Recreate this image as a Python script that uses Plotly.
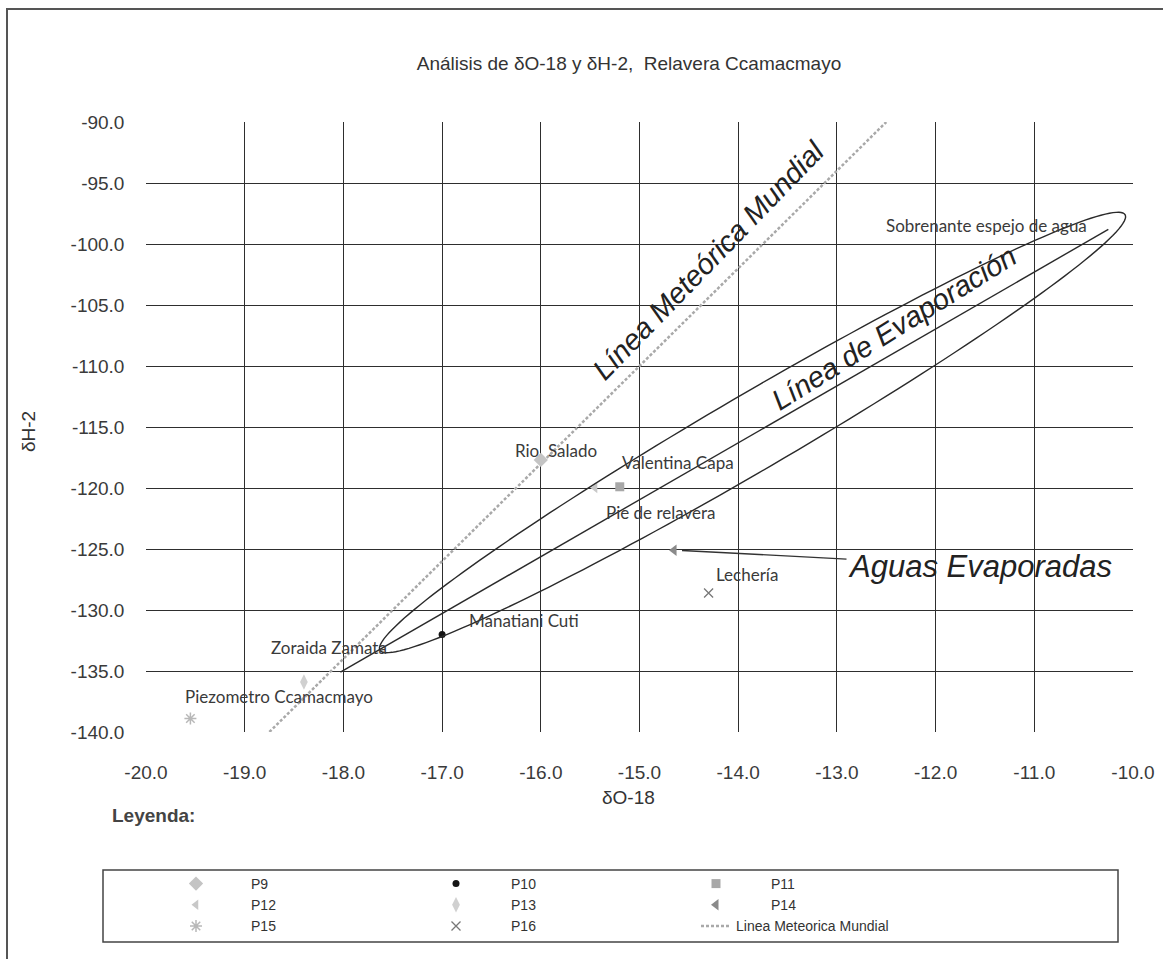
import numpy as np
import plotly.graph_objects as go

# ---- data: stable isotopes per sampling point ----
series_names = ["P9", "P10", "P11", "P12", "P13", "P14", "P15", "P16"]
d18o = [-16.0, -17.0, -15.2, -15.45, -18.4, -14.65, -19.55, -14.3]
d2h = [-117.7, -132.0, -119.9, -120.0, -135.9, -125.1, -138.9, -128.6]

# global meteoric water line, end points
mwl_name = "Linea Meteorica Mundial"
mwl_d18o = [-18.75, -12.5]
mwl_d2h = [-140.0, -90.0]

x_ticks = [-20, -19, -18, -17, -16, -15, -14, -13, -12, -11, -10]
x_tick_labels = ["-20.0", "-19.0", "-18.0", "-17.0", "-16.0", "-15.0",
                 "-14.0", "-13.0", "-12.0", "-11.0", "-10.0"]
y_ticks = [-140, -135, -130, -125, -120, -115, -110, -105, -100, -95, -90]
y_tick_labels = ["-140.0", "-135.0", "-130.0", "-125.0", "-120.0", "-115.0",
                 "-110.0", "-105.0", "-100.0", "-95.0", "-90.0"]

site_labels = ["Rio  Salado", "Valentina Capa", "Pie de relavera", "Lechería",
               "Manatiani Cuti", "Zoraida Zamata", "Piezometro Ccamacmayo",
               "Sobrenante espejo de agua"]

# ---- page geometry ----
W, H = 1163, 959
ML, MR, MT, MB = 146, 30, 122, 227
PW, PH = W - ML - MR, H - MT - MB
X_RANGE, Y_RANGE = (-20, -10), (-140, -90)
SX = PW / (X_RANGE[1] - X_RANGE[0])   # px per unit on x
SY = PH / (Y_RANGE[1] - Y_RANGE[0])   # px per unit on y


def px_to_paper(px, py):
    return (px - ML) / PW, (H - MB - py) / PH


marker_styles = {
    "P9": dict(symbol="diamond", size=11, color="#c4c4c4"),
    "P10": dict(symbol="circle", size=7, color="#151515"),
    "P11": dict(symbol="square", size=9, color="#a8a8a8"),
    "P12": dict(symbol="triangle-left", size=9, color="#c8c8c8"),
    "P13": dict(symbol="diamond-tall", size=11, color="#d0d0d0"),
    "P14": dict(symbol="triangle-left", size=10, color="#8a8a8a"),
    "P15": dict(symbol="asterisk-open", size=10, color="#b8b8b8",
                line=dict(width=1.5, color="#b0b0b0")),
    "P16": dict(symbol="x-thin-open", size=9, color="#777777",
                line=dict(width=1.3, color="#777777")),
}

PAD = "\u00a0" * 9

fig = go.Figure()

for name, xv, yv in zip(series_names, d18o, d2h):
    fig.add_trace(go.Scatter(
        x=[xv], y=[yv], mode="markers", name=PAD + name,
        marker=marker_styles[name], cliponaxis=False,
    ))

fig.add_trace(go.Scatter(
    x=mwl_d18o, y=mwl_d2h, mode="lines", name=mwl_name,
    line=dict(color="#a9a9a9", width=2.5, dash="3px,2px"), zorder=-1,
))

# ---- evaporation envelope (drawn ellipse + axis line) ----
tip_a = (-17.63, -133.3)
tip_b = (-10.08, -97.6)
ua, va = tip_a[0] * SX, tip_a[1] * SY
ub, vb = tip_b[0] * SX, tip_b[1] * SY
cu, cv = (ua + ub) / 2, (va + vb) / 2
half_len = np.hypot(ub - ua, vb - va) / 2
ang = np.arctan2(vb - va, ub - ua)
half_w = 38
t = np.linspace(0, 2 * np.pi, 181)
eu = cu + half_len * np.cos(t) * np.cos(ang) - half_w * np.sin(t) * np.sin(ang)
ev = cv + half_len * np.cos(t) * np.sin(ang) + half_w * np.sin(t) * np.cos(ang)
ex, ey = eu / SX, ev / SY
ell_path = "M " + " L ".join(f"{a:.4f},{b:.4f}" for a, b in zip(ex, ey)) + " Z"

shapes = [
    dict(type="path", path=ell_path, xref="x", yref="y",
         line=dict(color="#2a2a2a", width=1.4)),
    dict(type="line", xref="x", yref="y", x0=-18.03, y0=-135.1,
         x1=-10.25, y1=-98.8, line=dict(color="#2a2a2a", width=1.4)),
]

# legend frame and outer page frame
lx0, ly0 = px_to_paper(103, 942)
lx1, ly1 = px_to_paper(1118, 870)
shapes.append(dict(type="rect", xref="paper", yref="paper",
                   x0=lx0, y0=ly0, x1=lx1, y1=ly1,
                   line=dict(color="#444444", width=1.5), layer="below"))
fx0, fy1 = px_to_paper(7, 9)
shapes.append(dict(type="rect", xref="paper", yref="paper",
                   x0=fx0, y0=-0.6, x1=1.2, y1=fy1,
                   line=dict(color="#555555", width=2), layer="below"))

# ---- text ----
label_pos = [(-15.85, -116.9), (-14.61, -117.9), (-14.78, -122.0),
             (-13.91, -127.1), (-16.17, -130.9), (-18.15, -133.1),
             (-18.65, -137.1), (-11.48, -98.5)]
annotations = []
for txt, (ax_, ay_) in zip(site_labels, label_pos):
    annotations.append(dict(
        x=ax_, y=ay_, xref="x", yref="y", text=txt, showarrow=False,
        xanchor="center", yanchor="middle",
        font=dict(family="Lato, Open Sans, sans-serif", size=17, color="#3a3a3a"),
    ))

big_font = dict(family="Liberation Sans, Arial, sans-serif", size=29, color="#222222")
annotations += [
    dict(x=-14.3, y=-101.3, xref="x", yref="y", text="<i>Línea Meteórica Mundial</i>",
         showarrow=False, textangle=-46, font=big_font),
    dict(x=-12.42, y=-106.9, xref="x", yref="y", text="<i>Línea de Evaporación</i>",
         showarrow=False, textangle=-32, font=big_font),
    dict(x=-14.62, y=-125.1, xref="x", yref="y", ax=-11.55, ay=-126.4,
         axref="x", ayref="y", text="<i>Aguas Evaporadas</i>", showarrow=True,
         arrowhead=0, arrowwidth=1.3, arrowcolor="#333333", standoff=5,
         font=dict(family="Liberation Sans, Arial, sans-serif", size=31, color="#222222")),
]

lgx, lgy = px_to_paper(110, 815)
annotations.append(dict(x=lgx, y=lgy, xref="paper", yref="paper", text="<b>Leyenda:</b>",
                        showarrow=False, xanchor="left", yanchor="middle",
                        font=dict(family="Liberation Sans, Arial, sans-serif",
                                  size=19, color="#444444")))

yt_x, yt_y = px_to_paper(28, 432)
annotations.append(dict(x=yt_x, y=yt_y, xref="paper", yref="paper", text="δH-2",
                        showarrow=False, textangle=-90, xanchor="center", yanchor="middle",
                        font=dict(family="Liberation Sans, Arial, sans-serif",
                                  size=19, color="#333333")))
xt_x, xt_y = px_to_paper(628, 797)
annotations.append(dict(x=xt_x, y=xt_y, xref="paper", yref="paper", text="δO-18",
                        showarrow=False, xanchor="center", yanchor="middle",
                        font=dict(family="Liberation Sans, Arial, sans-serif",
                                  size=19, color="#333333")))

axis_common = dict(
    showgrid=True, gridcolor="#2e2e2e", gridwidth=1.2,
    showline=True, linecolor="#2e2e2e", linewidth=1.5, mirror=True,
    zeroline=False, ticks="",
    tickfont=dict(family="Liberation Sans, Arial, sans-serif", size=19, color="#3a3a3a"),
)

lg_x, lg_y = px_to_paper(176, 868)
fig.update_layout(
    width=W, height=H,
    margin=dict(l=ML, r=MR, t=MT, b=MB, autoexpand=False),
    paper_bgcolor="white", plot_bgcolor="white",
    title=dict(text="Análisis de δO-18 y δH-2,  Relavera Ccamacmayo",
               x=629 / W, xref="container", xanchor="center",
               y=1 - 63 / H, yref="container", yanchor="middle",
               font=dict(family="Liberation Sans, Arial, sans-serif", size=19, color="#333333")),
    xaxis=dict(range=list(X_RANGE), tickvals=x_ticks, ticktext=x_tick_labels,
               ticklabelstandoff=22, **axis_common),
    yaxis=dict(range=list(Y_RANGE), tickvals=y_ticks, ticktext=y_tick_labels,
               ticklabelstandoff=16, **axis_common),
    showlegend=True,
    legend=dict(orientation="h", x=lg_x, y=lg_y, xanchor="left", yanchor="top",
                entrywidth=215, entrywidthmode="pixels", borderwidth=0,
                bgcolor="rgba(0,0,0,0)", traceorder="normal",
                font=dict(family="Liberation Sans, Arial, sans-serif", size=14, color="#333333")),
    shapes=shapes, annotations=annotations,
)

fig.write_html("out.html")
